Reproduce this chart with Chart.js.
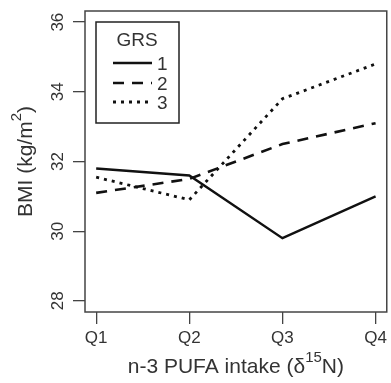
<!DOCTYPE html>
<html>
<head>
<meta charset="utf-8">
<script src="https://cdn.jsdelivr.net/npm/chart.js@4/dist/chart.umd.min.js"></script>
<style>
  html, body { margin: 0; padding: 0; background: #fff; }
  #wrap { width: 391px; height: 383px; }
</style>
</head>
<body>
<div id="wrap"><canvas id="bmiChart"></canvas></div>
<script>
const quartiles = ["Q1", "Q2", "Q3", "Q4"];
const grs1 = [31.8, 31.6, 29.8, 31.0];
const grs2 = [31.1, 31.5, 32.5, 33.1];
const grs3 = [31.55, 30.9, 33.8, 34.8];
const yTicks = [28, 30, 32, 34, 36];
const grsLabels = ["1", "2", "3"];

const FONT = "'Liberation Sans', Arial, sans-serif";
const TEXT = "#333";

function toPoints(values) {
  return values.map((v, i) => ({ x: i, y: v }));
}

// text with a superscript part, centred on 0,0 of the current transform
function drawSupText(ctx, before, sup, after, size) {
  const supSize = Math.round(size * 0.72);
  ctx.font = size + "px " + FONT;
  const w1 = ctx.measureText(before).width;
  const w3 = ctx.measureText(after).width;
  ctx.font = supSize + "px " + FONT;
  const w2 = ctx.measureText(sup).width;
  let x = -(w1 + w2 + w3) / 2;
  ctx.textAlign = "left";
  ctx.textBaseline = "middle";
  ctx.font = size + "px " + FONT;
  ctx.fillText(before, x, 0);
  x += w1;
  ctx.font = supSize + "px " + FONT;
  ctx.fillText(sup, x, -size * 0.42);
  x += w2;
  ctx.font = size + "px " + FONT;
  ctx.fillText(after, x, 0);
}

const extras = {
  id: "extras",
  afterDraw(chart) {
    const ctx = chart.ctx;
    const a = chart.chartArea;
    const ys = chart.scales.y;
    ctx.save();

    // plot box
    ctx.strokeStyle = "#444";
    ctx.lineWidth = 1.5;
    ctx.strokeRect(a.left, a.top, a.right - a.left, a.bottom - a.top);

    // y tick labels, rotated like R
    ctx.fillStyle = TEXT;
    ctx.font = "17px " + FONT;
    yTicks.forEach(t => {
      ctx.save();
      ctx.translate(58, ys.getPixelForValue(t));
      ctx.rotate(-Math.PI / 2);
      ctx.textAlign = "center";
      ctx.textBaseline = "middle";
      ctx.fillText(String(t), 0, 0);
      ctx.restore();
    });

    // y title
    ctx.save();
    ctx.translate(26, (a.top + a.bottom) / 2);
    ctx.rotate(-Math.PI / 2);
    drawSupText(ctx, "BMI (kg/m", "2", ")", 21);
    ctx.restore();

    // x title
    ctx.save();
    ctx.translate((a.left + a.right) / 2, 367);
    drawSupText(ctx, "n-3 PUFA intake (\u03b4", "15", "N)", 21);
    ctx.restore();

    // legend
    ctx.strokeStyle = "#222";
    ctx.lineWidth = 1.5;
    ctx.strokeRect(96, 22, 83, 101);
    ctx.font = "19px " + FONT;
    ctx.textAlign = "center";
    ctx.textBaseline = "middle";
    ctx.fillText("GRS", 137, 41);
    const rowY = [63, 83, 102];
    chart.data.datasets.forEach((ds, i) => {
      ctx.save();
      ctx.strokeStyle = ds.borderColor;
      ctx.lineWidth = ds.borderWidth;
      ctx.setLineDash(ds.borderDash || []);
      ctx.beginPath();
      ctx.moveTo(113, rowY[i]);
      ctx.lineTo(152, rowY[i]);
      ctx.stroke();
      ctx.restore();
      ctx.textAlign = "left";
      ctx.fillText(ds.label, 157, rowY[i] + 2);
    });

    ctx.restore();
  }
};

new Chart(document.getElementById("bmiChart").getContext("2d"), {
  type: "line",
  data: {
    datasets: [
      { label: grsLabels[0], data: toPoints(grs1), borderColor: "#111", borderWidth: 2.4, borderDash: [] },
      { label: grsLabels[1], data: toPoints(grs2), borderColor: "#111", borderWidth: 2.6, borderDash: [11, 8] },
      { label: grsLabels[2], data: toPoints(grs3), borderColor: "#111", borderWidth: 2.8, borderDash: [3, 5] }
    ]
  },
  options: {
    responsive: true,
    maintainAspectRatio: false,
    animation: false,
    layout: { padding: { top: 11, right: 2, left: 0, bottom: 0 } },
    elements: { point: { radius: 0 }, line: { tension: 0 } },
    plugins: { legend: { display: false }, tooltip: { enabled: false } },
    scales: {
      x: {
        type: "linear",
        min: -0.12,
        max: 3.12,
        afterBuildTicks: s => { s.ticks = quartiles.map((q, i) => ({ value: i })); },
        afterFit: s => { s.height = 71; },
        border: { display: false },
        grid: { drawOnChartArea: false, drawTicks: true, tickLength: 12, color: "#444", lineWidth: 1.3 },
        ticks: {
          callback: v => quartiles[v],
          color: TEXT,
          font: { family: FONT, size: 17 },
          padding: 4,
          maxRotation: 0
        }
      },
      y: {
        min: 27.68,
        max: 36.32,
        afterBuildTicks: s => { s.ticks = yTicks.map(v => ({ value: v })); },
        afterFit: s => { s.width = 85; },
        border: { display: false },
        grid: { drawOnChartArea: false, drawTicks: true, tickLength: 12, color: "#444", lineWidth: 1.3 },
        ticks: { display: false }
      }
    }
  },
  plugins: [extras]
});
</script>
</body>
</html>
